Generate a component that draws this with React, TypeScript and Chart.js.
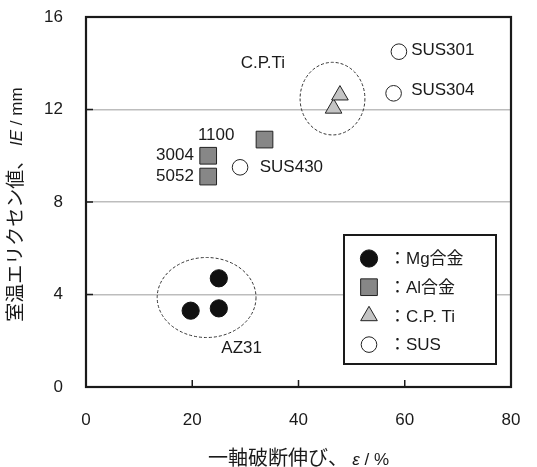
import React, { useEffect, useRef } from 'react';
import { Chart, registerables } from 'chart.js';
Chart.register(...registerables);

// ---- data ----
const mgX = [19.7, 25.0, 25.0];
const mgY = [3.3, 4.7, 3.4];
const alX = [23.0, 23.0, 33.6];
const alY = [10.0, 9.1, 10.7];
const tiX = [46.6, 47.8];
const tiY = [12.05, 12.62];
const susX = [58.9, 57.9, 29.0];
const susY = [14.5, 12.7, 9.5];

const xTicks = [0, 20, 40, 60, 80];
const yTicks = [0, 4, 8, 12, 16];

const legendLabels = ['：Mg合金', '：Al合金', '：C.P. Ti', '：SUS'];

// annotation texts, anchored in data units
const noteText = ['SUS301', 'SUS304', 'SUS430', '1100', '3004', '5052', 'C.P.Ti', 'AZ31'];
const noteX = [61.2, 61.2, 32.7, 24.5, 20.3, 20.3, 33.3, 29.3];
const noteY = [14.57, 12.84, 9.51, 10.9, 10.03, 9.12, 14.0, 1.69];
const noteAlign: CanvasTextAlign[] = ['left', 'left', 'left', 'center', 'right', 'right', 'center', 'center'];

// dashed group ellipses: center and radii in data units
const ellCX = [22.7, 46.4];
const ellCY = [3.87, 12.47];
const ellRX = [9.3, 6.1];
const ellRY = [1.73, 1.57];

const xTitleParts = [
  { t: '一軸破断伸び、 ', f: '20px "Noto Sans CJK JP", sans-serif' },
  { t: 'ε', f: 'italic 17px "Liberation Sans", sans-serif' },
  { t: ' / %', f: '17px "Liberation Sans", sans-serif' },
];
const yTitleParts = [
  { t: '室温エリクセン値、', f: '19px "Noto Sans CJK JP", sans-serif' },
  { t: ' IE', f: 'italic 17px "Liberation Sans", sans-serif' },
  { t: ' / mm', f: '17px "Liberation Sans", sans-serif' },
];

const FONT = '"Liberation Sans", "Noto Sans CJK JP", sans-serif';
const INK = '#1a1a1a';

function drawParts(ctx: CanvasRenderingContext2D, parts: { t: string; f: string }[], cx: number, baseY: number) {
  let total = 0;
  const widths = parts.map((p) => {
    ctx.font = p.f;
    const w = ctx.measureText(p.t).width;
    total += w;
    return w;
  });
  let x = cx - total / 2;
  ctx.textBaseline = 'alphabetic';
  ctx.textAlign = 'left';
  parts.forEach((p, i) => {
    ctx.font = p.f;
    ctx.fillText(p.t, x, baseY);
    x += widths[i];
  });
}

function drawMarker(ctx: CanvasRenderingContext2D, style: string, r: number, x: number, y: number) {
  ctx.beginPath();
  if (style === 'circle') {
    ctx.arc(x, y, r, 0, Math.PI * 2);
  } else if (style === 'rect') {
    const s = Math.SQRT1_2 * r;
    ctx.rect(x - s, y - s, 2 * s, 2 * s);
  } else if (style === 'triangle') {
    let rad = 0;
    ctx.moveTo(x + Math.sin(rad) * r, y - Math.cos(rad) * r);
    rad += (2 * Math.PI) / 3;
    ctx.lineTo(x + Math.sin(rad) * r, y - Math.cos(rad) * r);
    rad += (2 * Math.PI) / 3;
    ctx.lineTo(x + Math.sin(rad) * r, y - Math.cos(rad) * r);
    ctx.closePath();
  }
  ctx.fill();
  ctx.stroke();
}

const decoPlugin = {
  id: 'deco',
  beforeDatasetsDraw(chart: any) {
    const { ctx, chartArea: a, scales } = chart;
    const xs = scales.x;
    const ys = scales.y;
    ctx.save();
    // ellipses
    ctx.setLineDash([3, 2]);
    ctx.lineWidth = 1;
    ctx.strokeStyle = '#333';
    for (let i = 0; i < ellCX.length; i++) {
      const cx = xs.getPixelForValue(ellCX[i]);
      const cy = ys.getPixelForValue(ellCY[i]);
      const rx = xs.getPixelForValue(ellCX[i] + ellRX[i]) - cx;
      const ry = cy - ys.getPixelForValue(ellCY[i] + ellRY[i]);
      ctx.beginPath();
      ctx.ellipse(cx, cy, rx, ry, 0, 0, Math.PI * 2);
      ctx.stroke();
    }
    ctx.setLineDash([]);
    // inward ticks
    ctx.strokeStyle = INK;
    ctx.lineWidth = 1.5;
    ctx.beginPath();
    xTicks.forEach((v) => {
      const px = xs.getPixelForValue(v);
      ctx.moveTo(px, a.bottom);
      ctx.lineTo(px, a.bottom - 7);
    });
    yTicks.forEach((v) => {
      const py = ys.getPixelForValue(v);
      ctx.moveTo(a.left, py);
      ctx.lineTo(a.left + 7, py);
    });
    ctx.stroke();
    // frame
    ctx.lineWidth = 2.2;
    ctx.strokeStyle = INK;
    ctx.strokeRect(a.left, a.top, a.right - a.left, a.bottom - a.top);
    // annotations
    ctx.fillStyle = INK;
    ctx.font = '17px ' + FONT;
    ctx.textBaseline = 'middle';
    noteText.forEach((t, i) => {
      ctx.textAlign = noteAlign[i];
      ctx.fillText(t, xs.getPixelForValue(noteX[i]), ys.getPixelForValue(noteY[i]));
    });
    // titles
    drawParts(ctx, xTitleParts, (a.left + a.right) / 2, 465);
    ctx.save();
    ctx.translate(15, 204.5);
    ctx.rotate(-Math.PI / 2);
    drawParts(ctx, yTitleParts, 0, 6.5);
    ctx.restore();
    ctx.restore();
  },
  afterDatasetsDraw(chart: any) {
    const { ctx, chartArea: a } = chart;
    ctx.save();
    // legend box
    const bx = a.left + 258;
    const by = a.top + 218;
    const bw = 152;
    const bh = 129;
    ctx.fillStyle = '#fff';
    ctx.fillRect(bx, by, bw, bh);
    ctx.lineWidth = 2;
    ctx.strokeStyle = INK;
    ctx.strokeRect(bx, by, bw, bh);
    const rowH = 28.7;
    chart.data.datasets.forEach((ds: any, i: number) => {
      const mx = bx + 25;
      const my = by + 23.5 + i * rowH;
      ctx.fillStyle = ds.backgroundColor;
      ctx.strokeStyle = ds.borderColor;
      ctx.lineWidth = ds.borderWidth;
      drawMarker(ctx, ds.pointStyle, ds.pointRadius, mx, my);
      ctx.fillStyle = INK;
      ctx.font = '17px ' + FONT;
      ctx.textAlign = 'left';
      ctx.textBaseline = 'middle';
      ctx.fillText(legendLabels[i], bx + 45, my + 1);
    });
    ctx.restore();
  },
};

function pts(xs: number[], ys: number[]) {
  return xs.map((x, i) => ({ x, y: ys[i] }));
}

export default function App() {
  const ref = useRef<HTMLCanvasElement | null>(null);
  useEffect(() => {
    document.body.style.margin = '0';
    const canvas = ref.current;
    if (!canvas) return;
    const chart = new Chart(canvas, {
      type: 'scatter',
      data: {
        datasets: [
          { label: 'Mg', data: pts(mgX, mgY), pointStyle: 'circle', pointRadius: 8.6, backgroundColor: '#111', borderColor: '#111', borderWidth: 1 },
          { label: 'Al', data: pts(alX, alY), pointStyle: 'rect', pointRadius: 11.8, backgroundColor: '#878787', borderColor: '#222', borderWidth: 1 },
          { label: 'Ti', data: pts(tiX, tiY), pointStyle: 'triangle', pointRadius: 9.6, backgroundColor: '#c4c4c4', borderColor: '#222', borderWidth: 1 },
          { label: 'SUS', data: pts(susX, susY), pointStyle: 'circle', pointRadius: 7.8, backgroundColor: '#fff', borderColor: '#222', borderWidth: 1 },
        ] as any,
      },
      options: {
        animation: false,
        responsive: false,
        layout: { padding: { left: 0, top: 17, right: 26, bottom: 0 } },
        plugins: { legend: { display: false }, tooltip: { enabled: false } },
        scales: {
          x: {
            type: 'linear',
            min: 0,
            max: 80,
            afterFit: (s: any) => { s.height = 80; s.paddingLeft = 0; s.paddingRight = 0; },
            afterBuildTicks: (s: any) => { s.ticks = xTicks.map((v) => ({ value: v })); },
            ticks: { font: { size: 17, family: FONT }, color: INK, padding: 23, maxRotation: 0 },
            grid: { display: false, drawTicks: false },
            border: { display: false },
          },
          y: {
            type: 'linear',
            min: 0,
            max: 16,
            afterFit: (s: any) => { s.width = 86; s.paddingTop = 0; s.paddingBottom = 0; },
            afterBuildTicks: (s: any) => { s.ticks = yTicks.map((v) => ({ value: v })); },
            ticks: { font: { size: 17, family: FONT }, color: INK, padding: 23 },
            grid: {
              drawTicks: false,
              color: (c: any) => (c.tick && (c.tick.value === 0 || c.tick.value === 16) ? 'rgba(0,0,0,0)' : '#bdbdbd'),
              lineWidth: 1.5,
            },
            border: { display: false },
          },
        },
      },
      plugins: [decoPlugin],
    } as any);
    return () => chart.destroy();
  }, []);
  return (
    <div style={{ width: 537, height: 467 }}>
      <canvas ref={ref} width={537} height={467} style={{ display: 'block' }} />
    </div>
  );
}
